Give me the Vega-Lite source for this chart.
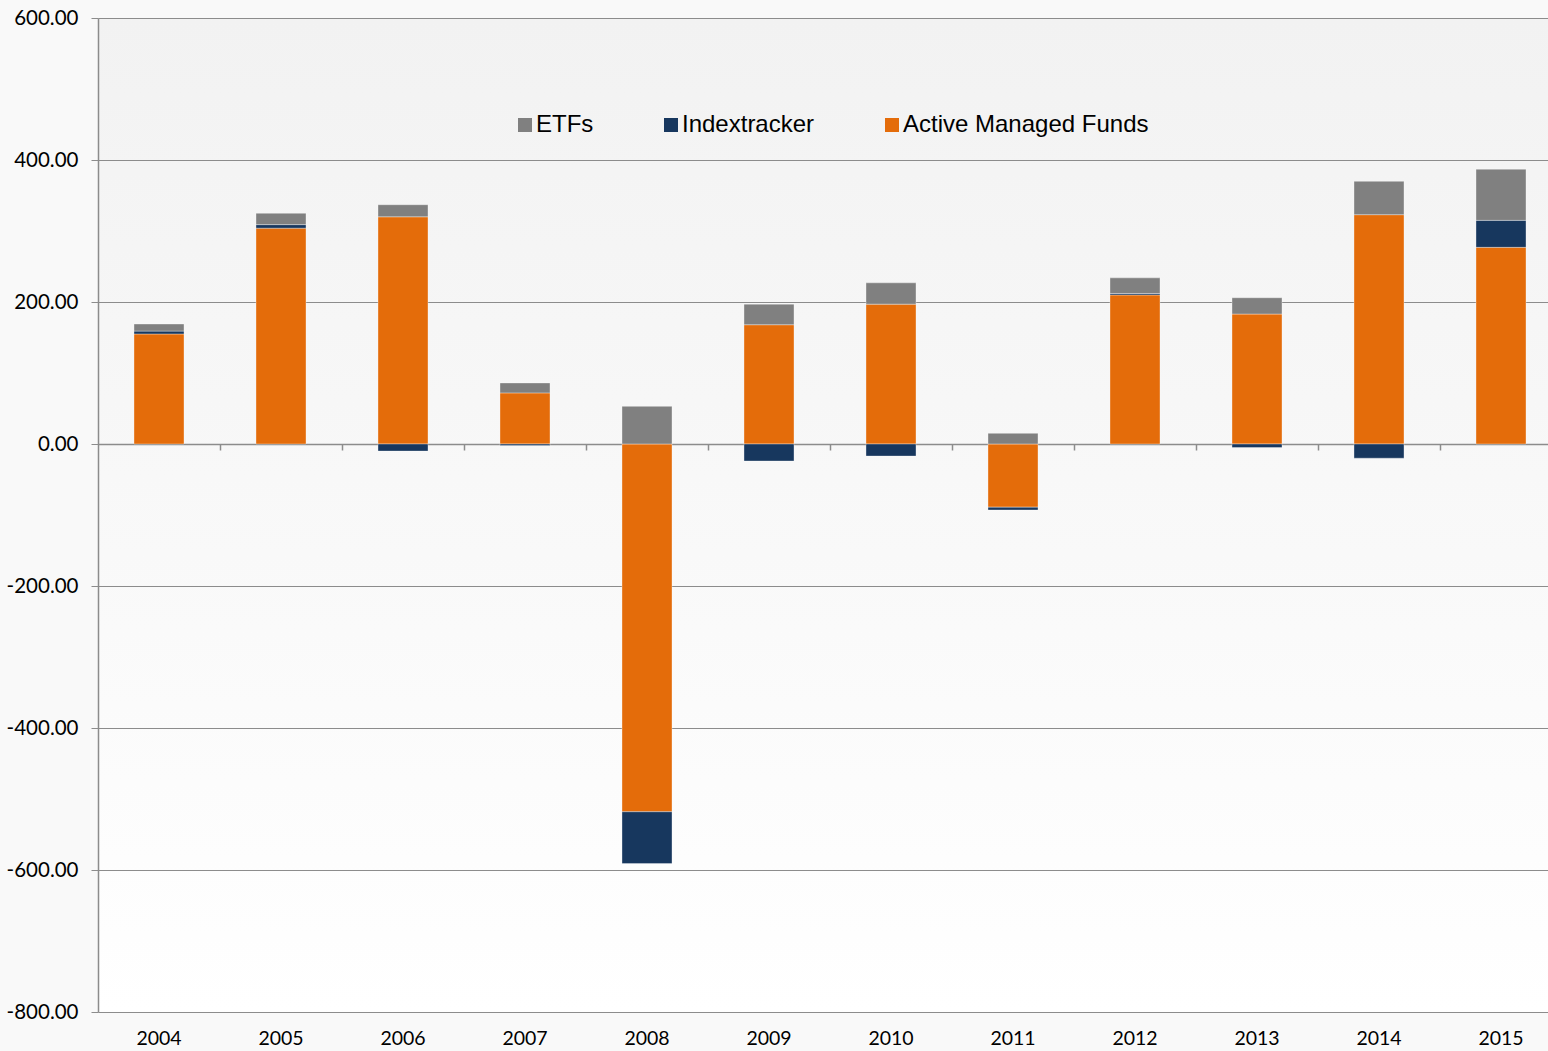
{
  "$schema": "https://vega.github.io/schema/vega-lite/v6.json",
  "width": 1464,
  "height": 994,
  "autosize": {"type": "none"},
  "padding": {"left": 98, "top": 18, "right": 0, "bottom": 39},
  "background": "#f9f9f9",
  "config": {
    "view": {
      "stroke": null,
      "fill": {
        "gradient": "linear",
        "x1": 0, "y1": 0, "x2": 0, "y2": 1,
        "stops": [
          {"offset": 0, "color": "#f2f2f2"},
          {"offset": 1, "color": "#ffffff"}
        ]
      }
    },
    "font": "Lato"
  },
  "data": {
    "values": [
      {"year": "2004", "type": "Active Managed Funds", "value": 155, "k": 1},
      {"year": "2004", "type": "Indextracker", "value": 4, "k": 2},
      {"year": "2004", "type": "ETFs", "value": 10, "k": 3},
      {"year": "2005", "type": "Active Managed Funds", "value": 304, "k": 1},
      {"year": "2005", "type": "Indextracker", "value": 5, "k": 2},
      {"year": "2005", "type": "ETFs", "value": 16, "k": 3},
      {"year": "2006", "type": "Active Managed Funds", "value": 320, "k": 1},
      {"year": "2006", "type": "Indextracker", "value": -10, "k": 2},
      {"year": "2006", "type": "ETFs", "value": 17, "k": 3},
      {"year": "2007", "type": "Active Managed Funds", "value": 72, "k": 1},
      {"year": "2007", "type": "Indextracker", "value": -2, "k": 2},
      {"year": "2007", "type": "ETFs", "value": 14, "k": 3},
      {"year": "2008", "type": "Active Managed Funds", "value": -518, "k": 1},
      {"year": "2008", "type": "Indextracker", "value": -73, "k": 2},
      {"year": "2008", "type": "ETFs", "value": 53, "k": 3},
      {"year": "2009", "type": "Active Managed Funds", "value": 168, "k": 1},
      {"year": "2009", "type": "Indextracker", "value": -24, "k": 2},
      {"year": "2009", "type": "ETFs", "value": 29, "k": 3},
      {"year": "2010", "type": "Active Managed Funds", "value": 197, "k": 1},
      {"year": "2010", "type": "Indextracker", "value": -17, "k": 2},
      {"year": "2010", "type": "ETFs", "value": 30, "k": 3},
      {"year": "2011", "type": "Active Managed Funds", "value": -89, "k": 1},
      {"year": "2011", "type": "Indextracker", "value": -4, "k": 2},
      {"year": "2011", "type": "ETFs", "value": 15, "k": 3},
      {"year": "2012", "type": "Active Managed Funds", "value": 210, "k": 1},
      {"year": "2012", "type": "Indextracker", "value": 2, "k": 2},
      {"year": "2012", "type": "ETFs", "value": 22, "k": 3},
      {"year": "2013", "type": "Active Managed Funds", "value": 183, "k": 1},
      {"year": "2013", "type": "Indextracker", "value": -5, "k": 2},
      {"year": "2013", "type": "ETFs", "value": 23, "k": 3},
      {"year": "2014", "type": "Active Managed Funds", "value": 323, "k": 1},
      {"year": "2014", "type": "Indextracker", "value": -20, "k": 2},
      {"year": "2014", "type": "ETFs", "value": 47, "k": 3},
      {"year": "2015", "type": "Active Managed Funds", "value": 277, "k": 1},
      {"year": "2015", "type": "Indextracker", "value": 38, "k": 2},
      {"year": "2015", "type": "ETFs", "value": 72, "k": 3}
    ]
  },
  "encoding": {
    "x": {
      "field": "year",
      "type": "nominal",
      "scale": {"paddingInner": 0.59, "paddingOuter": 0.295}
    }
  },
  "layer": [
    {
      "mark": {"type": "bar", "stroke": "#ffffff", "strokeOpacity": 0.35, "strokeWidth": 1},
      "encoding": {
        "x": {
          "field": "year",
          "type": "nominal",
          "axis": {
            "orient": "bottom",
            "offset": -568,
            "title": null,
            "labels": false,
            "ticks": true,
            "tickOffset": 61,
            "tickSize": 6,
            "tickColor": "#8c8c8c",
            "tickWidth": 1.5,
            "domain": true,
            "domainColor": "#8c8c8c",
            "domainWidth": 1.5,
            "grid": false
          }
        },
        "y": {
          "field": "value",
          "type": "quantitative",
          "stack": "zero",
          "scale": {"domain": [-800, 600], "nice": false},
          "axis": {
            "title": null,
            "values": [-800, -600, -400, -200, 0, 200, 400, 600],
            "format": ".2f",
            "labelExpr": "replace(datum.label, '\u2212', '-')",
            "grid": true,
            "gridColor": "#8c8c8c",
            "gridWidth": 1,
            "domainColor": "#8c8c8c",
            "domainWidth": 1.5,
            "tickColor": "#8c8c8c",
            "tickSize": 7,
            "labelFont": "Lato",
            "labelFontSize": 20.5,
            "labelColor": "#000000",
            "labelPadding": 13
          }
        },
        "color": {
          "field": "type",
          "type": "nominal",
          "scale": {
            "domain": ["ETFs", "Indextracker", "Active Managed Funds"],
            "range": ["#808080", "#17375e", "#e46c0a"]
          },
          "legend": {
            "title": null,
            "orient": "none",
            "direction": "horizontal",
            "legendX": 415,
            "legendY": 95,
            "symbolType": "square",
            "symbolSize": 196,
            "symbolStrokeWidth": 0,
            "symbolOpacity": 1,
            "labelFont": "Liberation Sans",
            "labelFontSize": 24,
            "labelColor": "#000000",
            "labelOffset": -1,
            "columnPadding": 65,
            "labelLimit": 400
          }
        },
        "order": {"field": "k", "type": "quantitative"}
      }
    },
    {
      "mark": {"type": "text", "text": ""},
      "encoding": {
        "x": {
          "field": "year",
          "type": "nominal",
          "axis": {
            "orient": "bottom",
            "title": null,
            "ticks": false,
            "domain": false,
            "grid": false,
            "labelAngle": 0,
            "labelFont": "Lato",
            "labelFontSize": 19.5,
            "labelColor": "#000000",
            "labelPadding": 17
          }
        },
        "y": {"datum": 0, "type": "quantitative"}
      }
    }
  ],
  "resolve": {"axis": {"x": "independent"}}
}
